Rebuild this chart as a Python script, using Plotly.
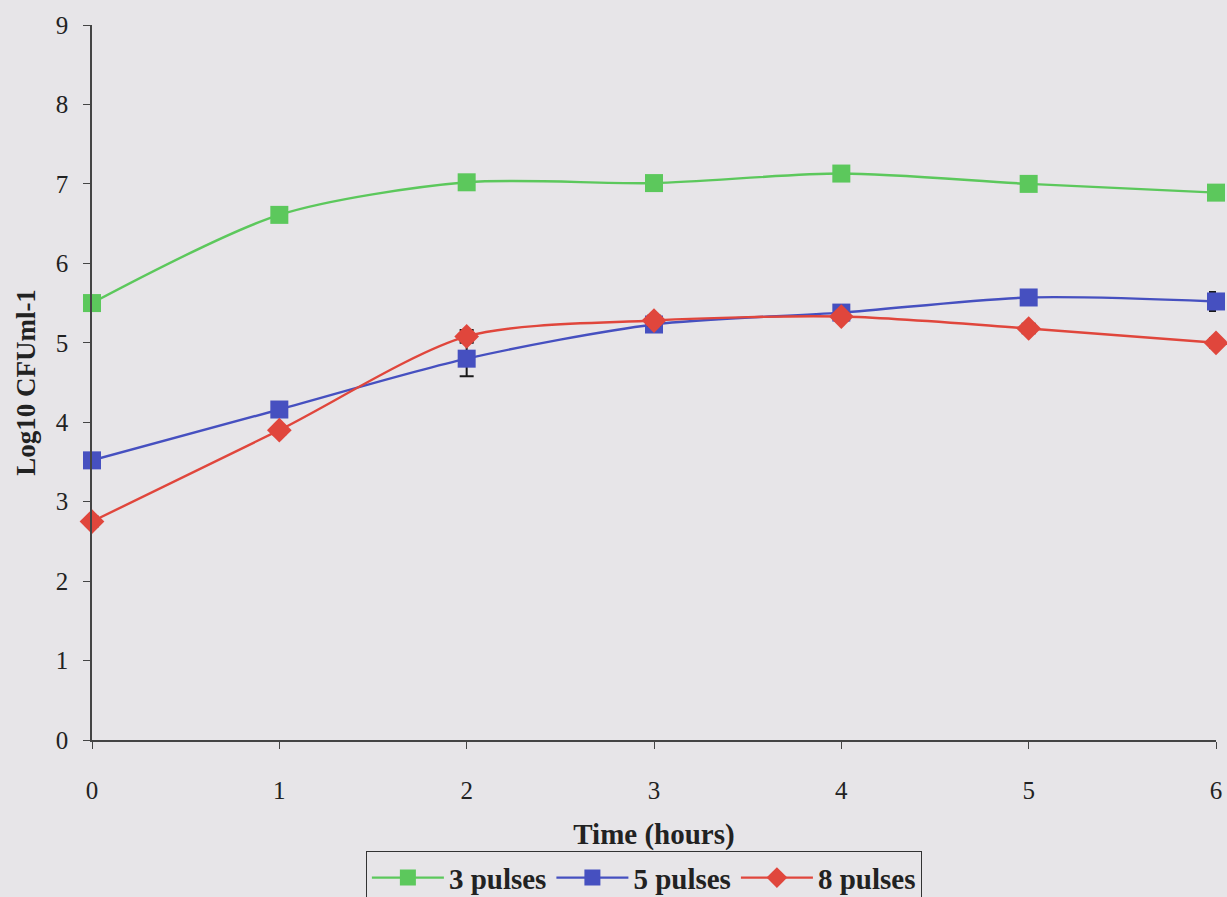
import plotly.graph_objects as go

time_h = [0, 1, 2, 3, 4, 5, 6]
p3 = [5.50, 6.61, 7.02, 7.01, 7.13, 7.00, 6.89]
p3_err = [0.05, 0.05, 0.05, 0.05, 0.05, 0.05, 0.05]
p5 = [3.52, 4.16, 4.80, 5.23, 5.38, 5.57, 5.52]
p5_err = [0.05, 0.05, 0.22, 0.06, 0.05, 0.05, 0.12]
p8 = [2.75, 3.90, 5.08, 5.28, 5.33, 5.18, 5.00]
p8_err = [0.06, 0.05, 0.08, 0.06, 0.05, 0.06, 0.06]

font_family = "Liberation Serif"
bg = "#e7e5e8"

fig = go.Figure()
series = [
    ("3 pulses", p3, p3_err, "#5cc85c", "square", 18),
    ("5 pulses", p5, p5_err, "#4650c0", "square", 18),
    ("8 pulses", p8, p8_err, "#e0463c", "diamond", 19),
]
for name, y, e, col, sym, sz in series:
    fig.add_trace(go.Scatter(
        x=time_h, y=y, name=name, mode="lines+markers", cliponaxis=False,
        line=dict(color=col, width=2.4, shape="spline", smoothing=0.8),
        marker=dict(symbol=sym, size=sz, color=col),
        error_y=dict(type="data", array=e, color="#1a1a1a", thickness=2, width=7),
    ))

fig.update_layout(
    width=1227, height=897,
    paper_bgcolor=bg, plot_bgcolor=bg,
    margin=dict(l=92, r=11, t=25, b=157, autoexpand=False),
    font=dict(family=font_family, size=25, color="#222222"),
    showlegend=True,
    legend=dict(orientation="h", x=0.491, xanchor="center",
                yref="container", y=0.051, yanchor="top",
                bordercolor="#333333", borderwidth=1, bgcolor="rgba(0,0,0,0)",
                font=dict(family=font_family, size=29, color="#222222", weight="bold"),
                itemwidth=72, tracegroupgap=0),
    xaxis=dict(range=[0, 6], tickvals=time_h, showgrid=False, zeroline=False,
               showline=True, linecolor="#444444", linewidth=1.5,
               ticks="outside", ticklen=7, tickcolor="#444444",
               ticklabelstandoff=20,
               title=dict(text="<b>Time (hours)</b>", standoff=23,
                          font=dict(family=font_family, size=29))),
    yaxis=dict(range=[0, 9], dtick=1, showgrid=False, zeroline=False,
               showline=True, linecolor="#444444", linewidth=1.5,
               ticks="outside", ticklen=7, tickcolor="#444444",
               ticklabelstandoff=10,
               title=dict(text="<b>Log10 CFUml-1</b>", standoff=12,
                          font=dict(family=font_family, size=27))),
)

fig.write_html("out.html", config={"displayModeBar": False},
               post_script="document.body.style.margin='0';document.body.style.background='" + bg + "';")
